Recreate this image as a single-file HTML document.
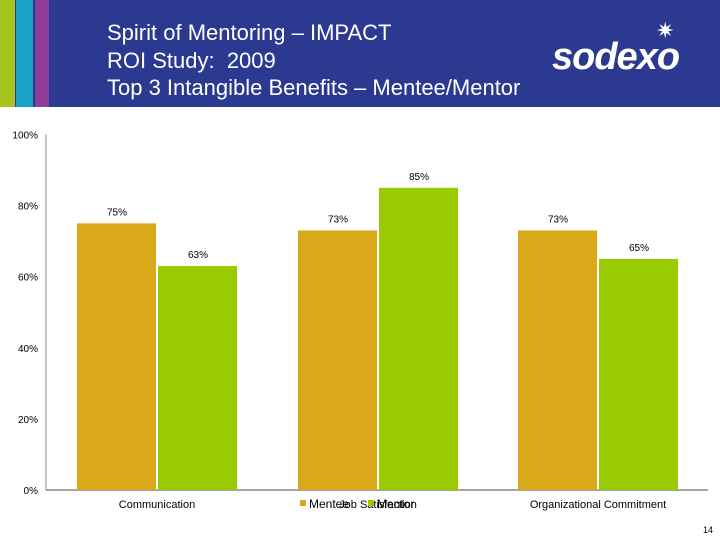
<!DOCTYPE html>
<html><head><meta charset="utf-8"><style>
body{margin:0;width:720px;height:540px;overflow:hidden;background:#fff;font-family:"Liberation Sans",sans-serif;position:relative}
.hdr{position:absolute;left:0;top:0;width:720px;height:107px;background:#2b3990}
.t{position:absolute;left:107px;color:#fff;font-size:22px}
</style></head><body>
<div class="hdr">
<div style="position:absolute;left:0;top:0;width:15px;height:107px;background:#a6c31e"></div>
<div style="position:absolute;left:16px;top:0;width:17px;height:107px;background:#1aa3c8"></div>
<div style="position:absolute;left:35px;top:0;width:14px;height:107px;background:#8e3d98"></div>
<div class="t" style="top:20px">Spirit of Mentoring – IMPACT</div>
<div class="t" style="top:48px">ROI Study:&nbsp; 2009</div>
<div class="t" style="top:75px">Top 3 Intangible Benefits – Mentee/Mentor</div>
<div style="position:absolute;left:552px;top:36px;color:#fff;font-size:38px;font-weight:bold;font-style:italic;letter-spacing:-1px">sodexo</div>
<div style="position:absolute;left:656px;top:18px;color:#fff;font-size:22px">✷</div>
</div>
<svg id="c" width="720" height="540" style="position:absolute;left:0;top:0"></svg>
<div style="position:absolute;left:703px;top:525px;font-size:9px">14</div>
<script>
const categories=["Communication","Job Satisfaction","Organizational Commitment"];
const mentee=[75,73,73];
const mentor=[63,85,65];
const ticks=[0,20,40,60,80,100];
const NS="http://www.w3.org/2000/svg",svg=document.getElementById('c');
function y(v){return 490-v*3.555;}
const cx=[157,378,598];
function mk(t,a){const e=document.createElementNS(NS,t);for(const k in a)e.setAttribute(k,a[k]);svg.appendChild(e);return e;}
let ax=mk('line',{x1:46,x2:46,y1:y(100),y2:490,stroke:'#888'});


let bx=mk('line',{x1:46,x2:708,y1:490,y2:490,stroke:'#888','stroke-width':1.5});


ticks.forEach(t=>{const e=mk('text',{x:38,y:y(t)+4,'text-anchor':'end','font-size':10,fill:'#000'});e.textContent=t+'%';

});
categories.forEach((c,i)=>{
 [[mentee[i],cx[i]-80,'#d9a91a','mentee'],[mentor[i],cx[i]+1,'#99cc00','mentor']].forEach(([v,x,col,s])=>{
  const r=mk('rect',{x:x,y:y(v),width:79,height:490-y(v),fill:col});
  
  
  const l=mk('text',{x:x+40,y:y(v)-8,'text-anchor':'middle','font-size':10,fill:'#000'});l.textContent=v+'%';
  
  
 });
 const t=mk('text',{x:cx[i],y:508,'text-anchor':'middle','font-size':11,fill:'#000'});t.textContent=c;
 
 
});
const leg=[['Mentee','#d9a91a',300],['Mentor','#99cc00',368]];
leg.forEach(([n,col,x])=>{
 const r=mk('rect',{x:x,y:500,width:6,height:6,fill:col});
 
 
 const t=mk('text',{x:x+9,y:508,'font-size':12,fill:'#000'});t.textContent=n;
 
 
});
</script>
</body></html>
